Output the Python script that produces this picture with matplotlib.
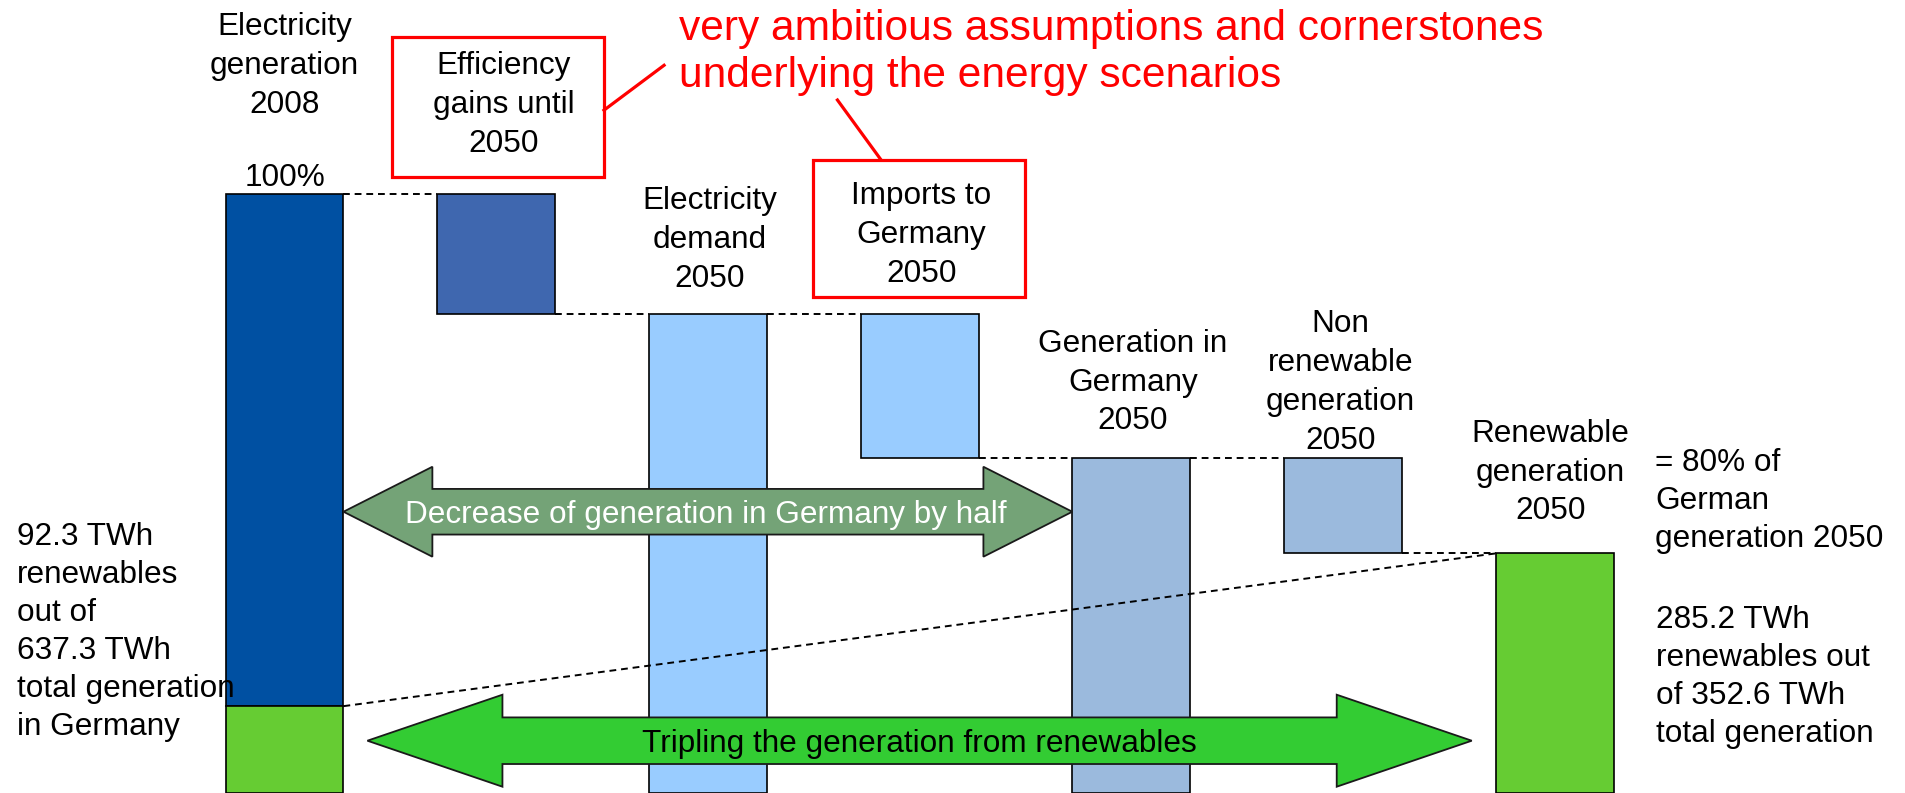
import numpy as np
import matplotlib.pyplot as plt
from matplotlib.patches import Polygon, Rectangle

# waterfall in relative units, electricity generation 2008 = 100
steps = ['Electricity\ngeneration\n2008', 'Efficiency\ngains until\n2050',
         'Electricity\ndemand\n2050', 'Imports to\nGermany\n2050',
         'Generation in\nGermany\n2050', 'Non\nrenewable\ngeneration\n2050',
         'Renewable\ngeneration\n2050']
gen_2008 = 100.0
ren_2008 = 14.5
efficiency = 20.0
imports = 24.0
non_renewable = 16.0

demand_2050 = gen_2008 - efficiency
gen_2050 = demand_2050 - imports
ren_2050 = gen_2050 - non_renewable

bar_tops = [gen_2008, gen_2008, demand_2050, demand_2050, gen_2050, gen_2050, ren_2050]
bar_bottoms = [ren_2008, demand_2050, 0, gen_2050, 0, ren_2050, 0]
bar_colors = ['#0050A2', '#3F67AF', '#99CCFF', '#99CCFF', '#9BBADD', '#9BBADD', '#66CC33']

plt.rcParams['font.family'] = ['Liberation Sans', 'DejaVu Sans']
FS = 22.7

fig = plt.figure(figsize=(19.05, 7.93), dpi=100)
ax = fig.add_axes([0, 0, 1, 1])
ax.set_xlim(-1.344, 7.655)
ax.set_ylim(0, 132.4)
ax.axis('off')

x = np.arange(len(steps))
w = 0.557
heights = np.array(bar_tops) - np.array(bar_bottoms)
ax.bar(x, heights, bottom=bar_bottoms, width=w, color=bar_colors,
       edgecolor='black', linewidth=1.2, zorder=2)
ax.bar(0, ren_2008, width=w, color='#66CC33', edgecolor='black', linewidth=1.2, zorder=2)

# dashed connectors between steps
dash = (0, (3.5, 2.5))
conn_levels = [gen_2008, demand_2050, demand_2050, gen_2050, gen_2050, ren_2050]
for i, lev in enumerate(conn_levels):
    ax.plot([i + w / 2, i + 1 - w / 2], [lev, lev], color='black', ls=dash, lw=1.4, zorder=3)
ax.plot([w / 2, 6 - w / 2], [ren_2008, ren_2050], color='black', ls=dash, lw=1.4, zorder=3)


def block_arrow(x0, x1, yc, shaft, head, head_len, color):
    pts = [(x0, yc), (x0 + head_len, yc + head), (x0 + head_len, yc + shaft),
           (x1 - head_len, yc + shaft), (x1 - head_len, yc + head), (x1, yc),
           (x1 - head_len, yc - head), (x1 - head_len, yc - shaft),
           (x0 + head_len, yc - shaft), (x0 + head_len, yc - head)]
    ax.add_patch(Polygon(pts, closed=True, fc=color, ec='#1a1a1a', lw=1.3, zorder=4))


block_arrow(w / 2, 4 - w / 2, 46.96, 3.81, 7.51, 0.42, '#74A377')
block_arrow(w / 2 + 0.113, 6 - w / 2 - 0.113, 8.73, 3.89, 7.68, 0.638, '#33CC33')
ax.text(1.988, 45.07, 'Decrease of generation in Germany by half', color='white',
        fontsize=FS, ha='center', va='baseline', zorder=5)
ax.text(2.997, 6.84, 'Tripling the generation from renewables', color='black',
        fontsize=FS, ha='center', va='baseline', zorder=5)

# step labels
label_x = [0, 1.034, 2.01, 3.009, 4.008, 4.988, 5.98]
label_y = [113.6, 107.1, 84.5, 85.4, 60.7, 57.5, 45.7]
for lx, ly, s in zip(label_x, label_y, steps):
    ax.text(lx, ly, s, fontsize=FS, ha='center', va='baseline', linespacing=1.38, zorder=5)
ax.text(0, 101.3, '100%', fontsize=FS, ha='center', va='baseline')

# red callouts
red = '#FF0000'
ax.add_patch(Rectangle((1.01 - 0.5, 102.8), 1.0, 23.5, fill=False, ec=red, lw=2.3, zorder=4))
ax.add_patch(Rectangle((2.998 - 0.5, 82.75), 1.0, 22.95, fill=False, ec=red, lw=2.3, zorder=4))
ax.plot([1.509, 1.793], [114.0, 121.5], color=red, lw=2.3)
ax.plot([2.612, 2.816], [115.7, 105.8], color=red, lw=2.3)
ax.text(1.864, 117.9, 'very ambitious assumptions and cornerstones\nunderlying the energy scenarios',
        color=red, fontsize=30.6, ha='left', va='baseline', linespacing=1.21)

# side notes
ax.text(-1.264, 9.68, '92.3 TWh\nrenewables\nout of\n637.3 TWh\ntotal generation\nin Germany',
        fontsize=FS, ha='left', va='baseline', linespacing=1.35, zorder=5)
ax.text(6.475, 41.1, '= 80% of\nGerman\ngeneration 2050',
        fontsize=FS, ha='left', va='baseline', linespacing=1.35)
ax.text(6.481, 8.56, '285.2 TWh\nrenewables out\nof 352.6 TWh\ntotal generation',
        fontsize=FS, ha='left', va='baseline', linespacing=1.35)

fig.savefig('out.png', dpi=100)
